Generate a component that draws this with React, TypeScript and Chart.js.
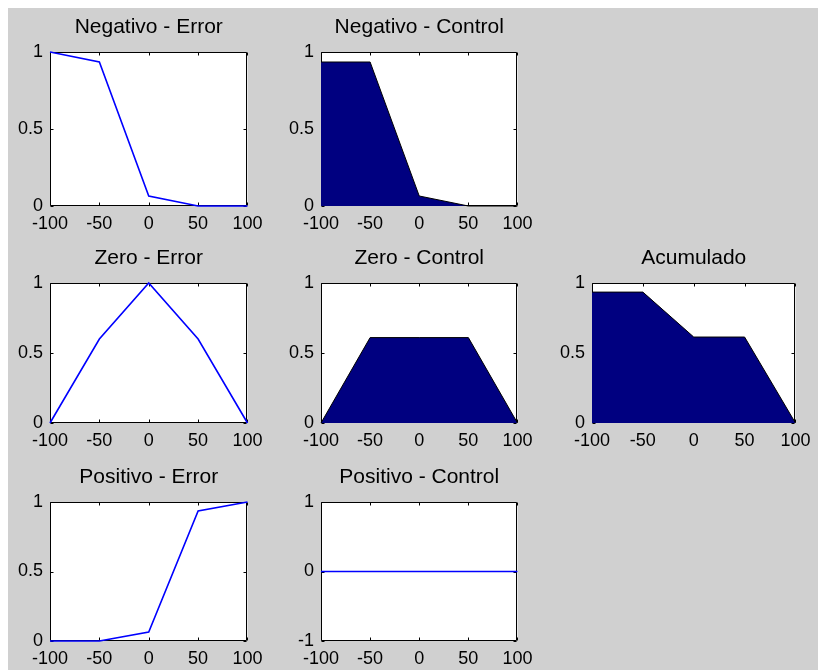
import React, { useEffect, useRef } from 'react';
import { Chart, registerables } from 'chart.js';

Chart.register(...registerables);

// ---------------- data ----------------
const xValues = [-100, -50, 0, 50, 100];
const xTickValues = [-100, -50, 0, 50, 100];
const unitYTicks = [0, 0.5, 1];
const signedYTicks = [-1, 0, 1];

const negErrorY = [1, 0.935, 0.065, 0, 0];
const zeroErrorY = [0, 0.6, 1, 0.6, 0];
const posErrorY = [0, 0, 0.065, 0.935, 1];
const negControlY = [0.935, 0.935, 0.065, 0, 0];
const zeroControlY = [0, 0.61, 0.61, 0.61, 0];
const posControlY = [0, 0, 0, 0, 0];
const accumY = [0.935, 0.935, 0.614, 0.614, 0];

const titles = [
  'Negativo - Error',
  'Negativo - Control',
  'Zero - Error',
  'Zero - Control',
  'Acumulado',
  'Positivo - Error',
  'Positivo - Control',
];

// ---------------- layout ----------------
const FONT = '"Liberation Sans", Arial, Helvetica, sans-serif';
const Y_AXIS_W = 40;
const X_AXIS_H = 30;
const TITLE_H = 38; // 3 + 21 + 14
const RIGHT_PAD = 20;

const cols = [
  { left: 50, w: 200 },
  { left: 321, w: 199 },
  { left: 592, w: 206 },
];
const rows = [
  { top: 52, h: 154 },
  { top: 283, h: 140 },
  { top: 502, h: 139 },
];

type Spec = {
  title: string;
  ys: number[];
  filled: boolean;
  yTicks: number[];
  row: number;
  col: number;
};

const specs: Spec[] = [
  { title: titles[0], ys: negErrorY, filled: false, yTicks: unitYTicks, row: 0, col: 0 },
  { title: titles[1], ys: negControlY, filled: true, yTicks: unitYTicks, row: 0, col: 1 },
  { title: titles[2], ys: zeroErrorY, filled: false, yTicks: unitYTicks, row: 1, col: 0 },
  { title: titles[3], ys: zeroControlY, filled: true, yTicks: unitYTicks, row: 1, col: 1 },
  { title: titles[4], ys: accumY, filled: true, yTicks: unitYTicks, row: 1, col: 2 },
  { title: titles[5], ys: posErrorY, filled: false, yTicks: unitYTicks, row: 2, col: 0 },
  { title: titles[6], ys: posControlY, filled: false, yTicks: signedYTicks, row: 2, col: 1 },
];

const TICK_LEN = 3;

const boxPlugin = {
  id: 'matlabBox',
  beforeDatasetsDraw(chart: any) {
    const { ctx, chartArea: a, scales } = chart;
    const l = Math.round(a.left) + 0.5;
    const r = Math.round(a.right) - 0.5;
    const t = Math.round(a.top) + 0.5;
    const b = Math.round(a.bottom) - 0.5;
    ctx.save();
    ctx.fillStyle = '#ffffff';
    ctx.fillRect(a.left, a.top, a.right - a.left, a.bottom - a.top);
    ctx.strokeStyle = '#000000';
    ctx.lineWidth = 1;
    ctx.beginPath();
    ctx.rect(l, t, r - l, b - t);
    ctx.stroke();
    ctx.beginPath();
    for (const tk of scales.x.ticks) {
      const px = Math.round(scales.x.getPixelForValue(tk.value)) + 0.5;
      ctx.moveTo(px, b);
      ctx.lineTo(px, b - TICK_LEN);
      ctx.moveTo(px, t);
      ctx.lineTo(px, t + TICK_LEN);
    }
    for (const tk of scales.y.ticks) {
      const py = Math.round(scales.y.getPixelForValue(tk.value)) + 0.5;
      ctx.moveTo(l, py);
      ctx.lineTo(l + TICK_LEN, py);
      ctx.moveTo(r, py);
      ctx.lineTo(r - TICK_LEN, py);
    }
    ctx.stroke();
    ctx.restore();
  },
};

function Subplot({ spec }: { spec: Spec }) {
  const ref = useRef<HTMLCanvasElement | null>(null);
  const col = cols[spec.col];
  const row = rows[spec.row];
  const width = col.w + Y_AXIS_W + RIGHT_PAD;
  const height = TITLE_H + row.h + X_AXIS_H;
  const left = col.left - Y_AXIS_W;
  const top = row.top - TITLE_H;

  useEffect(() => {
    if (!ref.current) return;
    const yMin = spec.yTicks[0];
    const yMax = spec.yTicks[spec.yTicks.length - 1];
    const chart = new Chart(ref.current, {
      type: 'line',
      data: {
        datasets: [
          {
            data: xValues.map((x, i) => ({ x, y: spec.ys[i] })),
            borderColor: spec.filled ? '#000000' : '#0000ff',
            backgroundColor: spec.filled ? '#000080' : 'transparent',
            fill: spec.filled ? 'origin' : false,
            borderWidth: spec.filled ? 1 : 1.6,
            pointRadius: 0,
            tension: 0,
            clip: 4,
          } as any,
        ],
      },
      options: {
        responsive: false,
        animation: false,
        events: [],
        layout: { padding: { left: 0, right: RIGHT_PAD, top: 0, bottom: 0 } },
        plugins: {
          legend: { display: false },
          tooltip: { enabled: false },
          title: {
            display: true,
            text: spec.title,
            fullSize: false,
            color: '#000000',
            font: { family: FONT, size: 21, weight: 'normal', lineHeight: 1 },
            padding: { top: 3, bottom: 14 },
          },
        },
        scales: {
          x: {
            type: 'linear',
            min: -100,
            max: 100,
            afterBuildTicks: (s: any) => {
              s.ticks = xTickValues.map((v) => ({ value: v }));
            },
            afterFit: (s: any) => {
              s.height = X_AXIS_H;
            },
            grid: { display: false, drawTicks: false },
            border: { display: false },
            ticks: {
              color: '#000000',
              font: { family: FONT, size: 18 },
              padding: 7.5,
              autoSkip: false,
              maxRotation: 0,
              callback: (v: any) => String(v),
            },
          },
          y: {
            type: 'linear',
            min: yMin,
            max: yMax,
            afterBuildTicks: (s: any) => {
              s.ticks = spec.yTicks.map((v) => ({ value: v }));
            },
            afterFit: (s: any) => {
              s.width = Y_AXIS_W;
            },
            grid: { display: false, drawTicks: false },
            border: { display: false },
            ticks: {
              color: '#000000',
              font: { family: FONT, size: 18 },
              padding: 7,
              autoSkip: false,
              callback: (v: any) => String(v),
            },
          },
        },
      } as any,
      plugins: [boxPlugin],
    });
    return () => chart.destroy();
  }, [spec]);

  return (
    <canvas
      ref={ref}
      width={width}
      height={height}
      style={{ position: 'absolute', left, top, width, height }}
    />
  );
}

export default function App() {
  return (
    <div
      style={{
        position: 'relative',
        width: 818,
        height: 670,
        background: '#ffffff',
        overflow: 'hidden',
      }}
    >
      <style>{'html,body{margin:0;padding:0;overflow:hidden;}'}</style>
      <div
        style={{
          position: 'absolute',
          left: 8,
          top: 8,
          width: 810,
          height: 662,
          background: '#d0d0d0',
        }}
      />
      {specs.map((s) => (
        <Subplot key={s.title} spec={s} />
      ))}
    </div>
  );
}
